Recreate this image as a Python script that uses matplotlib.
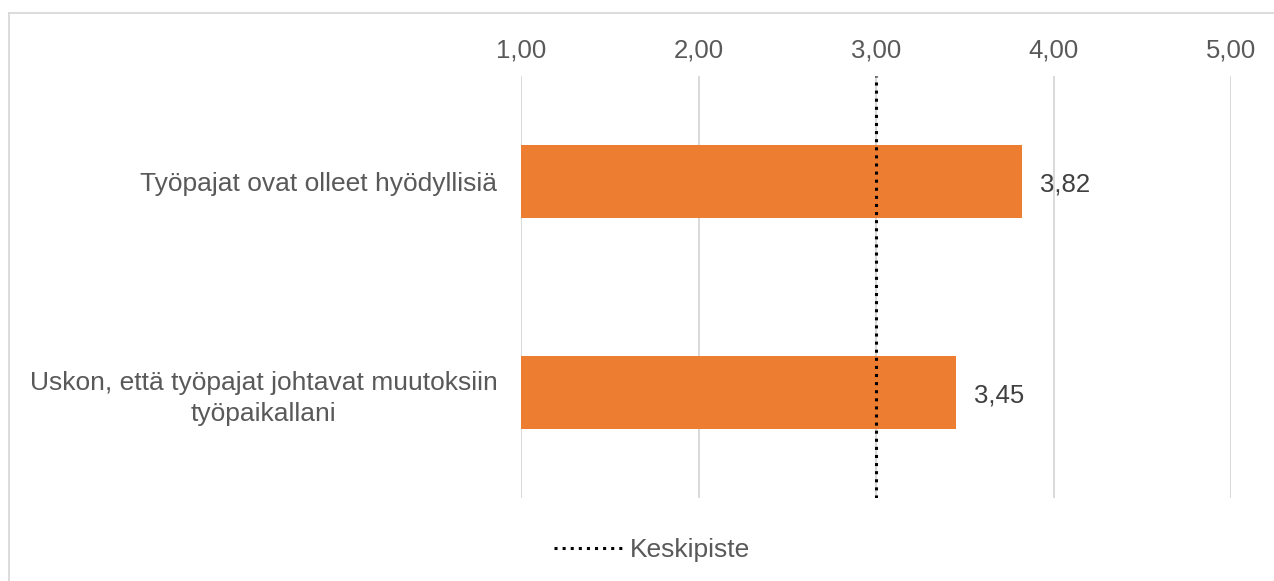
import matplotlib
matplotlib.use("Agg")
import matplotlib.pyplot as plt
from matplotlib.lines import Line2D

plt.rcParams['font.family'] = ['Liberation Sans', 'DejaVu Sans']

categories = ["Työpajat ovat olleet hyödyllisiä",
              "Uskon, että työpajat johtavat muutoksiin\ntyöpaikallani"]
values = [3.82, 3.45]
x_ticks = [1, 2, 3, 4, 5]
x_tick_labels = ["1,00", "2,00", "3,00", "4,00", "5,00"]
midpoint = 3.0
legend_label = "Keskipiste"

W, H = 1274, 581
fig = plt.figure(figsize=(W / 100, H / 100), dpi=100)
ax = fig.add_axes([521 / W, 1 - 498 / H, (1231 - 521) / W, (498 - 76) / H])

ypos = list(range(len(categories)))
ax.barh(ypos, [v - 1 for v in values], left=1, height=0.35, color='#ED7D31', zorder=2)
ax.set_xlim(1, 5)
ax.set_ylim(1.5, -0.5)

ax.set_xticks(x_ticks)
ax.set_xticklabels(x_tick_labels)
ax.xaxis.tick_top()
ax.set_yticks(ypos)
ax.set_yticklabels(categories, ha='right', multialignment='center')
ax.tick_params(axis='x', length=0, pad=10, labelsize=18.5, labelcolor='#595959')
ax.tick_params(axis='y', length=0, pad=17, labelsize=19, labelcolor='#595959')
for lab in ax.get_yticklabels():
    lab.set_multialignment('center')
    lab.set_linespacing(1.35)

ax.grid(axis='x', color='#D9D9D9', linewidth=1.4, zorder=0)
ax.set_axisbelow(True)
for s in ax.spines.values():
    s.set_visible(False)

ax.axvline(midpoint, color='black', linestyle=':', linewidth=2.2, zorder=3)

for y, v in zip(ypos, values):
    ax.annotate(f"{v:.2f}".replace('.', ','), xy=(v, y), xytext=(13, -2),
                textcoords='offset points', ha='left', va='center',
                fontsize=18.5, color='#404040')

handle = Line2D([], [], color='black', linestyle=':', linewidth=2.2)
fig.legend([handle], [legend_label], loc='center', bbox_to_anchor=(652 / W, 1 - 550 / H),
           frameon=False, fontsize=19, labelcolor='#595959', handlelength=2.6,
           handletextpad=0.3)

# outer frame (top and left edges visible)
fig.add_artist(Line2D([9 / W, 1], [1 - 13 / H, 1 - 13 / H], transform=fig.transFigure,
                      color='#D9D9D9', linewidth=1.3))
fig.add_artist(Line2D([9 / W, 9 / W], [0, 1 - 13 / H], transform=fig.transFigure,
                      color='#D9D9D9', linewidth=1.3))

fig.savefig("out.png", dpi=100)
